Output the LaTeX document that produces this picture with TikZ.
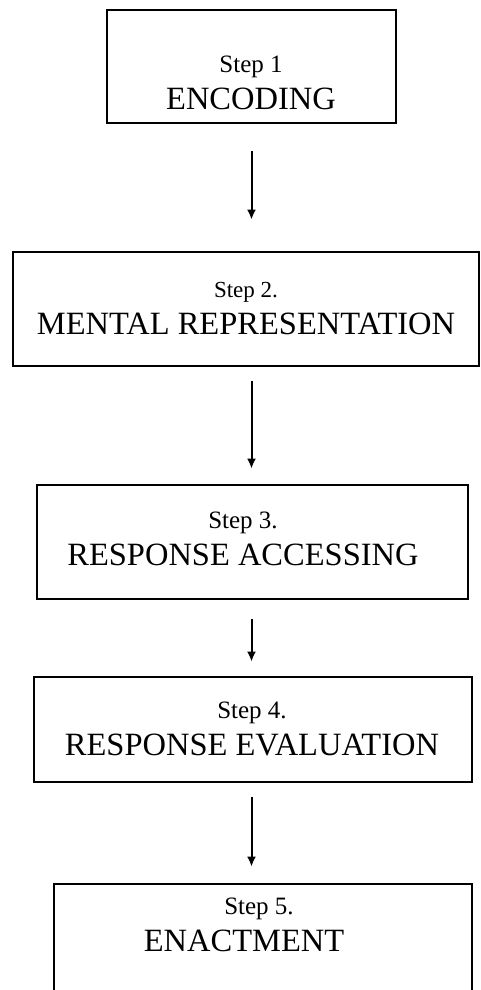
\documentclass[tikz,border=0pt]{standalone}
\usepackage{fontspec}
\setmainfont{Liberation Serif}
\usetikzlibrary{arrows.meta}
\tikzstyle{stepbox}=[draw, rectangle, line width=2.8pt, inner sep=0pt]
\tikzset{flow/.style={-{Latex[length=10pt,width=9pt]}, line width=2pt}}
\tikzset{steptext/.style={align=center, inner sep=0pt, anchor=south,
    font=\fontsize{32.5}{37}\selectfont}}
\newcommand{\stepno}[1]{{\fontsize{25}{30}\selectfont #1}}

\begin{document}
\begin{tikzpicture}[x=1pt,y=-1pt]
  \useasboundingbox (0,0) rectangle (481,990);
  \clip (0,0) rectangle (481,990);

  %% Boxes
  \draw (251.5,66.5) node[stepbox,minimum width=289pt,minimum height=113pt] (S1) {};
  \draw (246,309) node[stepbox,minimum width=466pt,minimum height=114pt] (S2) {};
  \draw (252.5,542) node[stepbox,minimum width=431pt,minimum height=114pt] (S3) {};
  \draw (253,729.5) node[stepbox,minimum width=438pt,minimum height=105pt] (S4) {};
  \draw (263,944) node[stepbox,minimum width=418pt,minimum height=120pt] (S5) {};

  %% Texts
  \draw (251,110) node[steptext] (T1) {\stepno{Step 1}\\ENCODING};
  \draw (246,335) node[steptext] (T2) {{\fontsize{23}{28}\selectfont Step 2.}\\MENTAL REPRESENTATION};
  \draw (243,566) node[steptext] (T3) {\stepno{Step 3.}\\RESPONSE ACCESSING};
  \draw (252,756) node[steptext] (T4) {\stepno{Step 4.}\\RESPONSE EVALUATION};
  \draw (244,952) node[steptext] (T5) {\stepno{\hspace*{30pt}Step 5.}\\ENACTMENT};

  %% Arrows
  \draw[flow,shorten <=27pt,shorten >=31pt] (S1.south) -- (S1.south |- S2.north);
  \draw[flow,shorten <=14pt,shorten >=15pt] (S1.south |- S2.south) -- (S1.south |- S3.north);
  \draw[flow,shorten <=19pt,shorten >=14pt] (S1.south |- S3.south) -- (S1.south |- S4.north);
  \draw[flow,shorten <=14pt,shorten >=16pt] (S1.south |- S4.south) -- (S1.south |- S5.north);
\end{tikzpicture}
\end{document}
